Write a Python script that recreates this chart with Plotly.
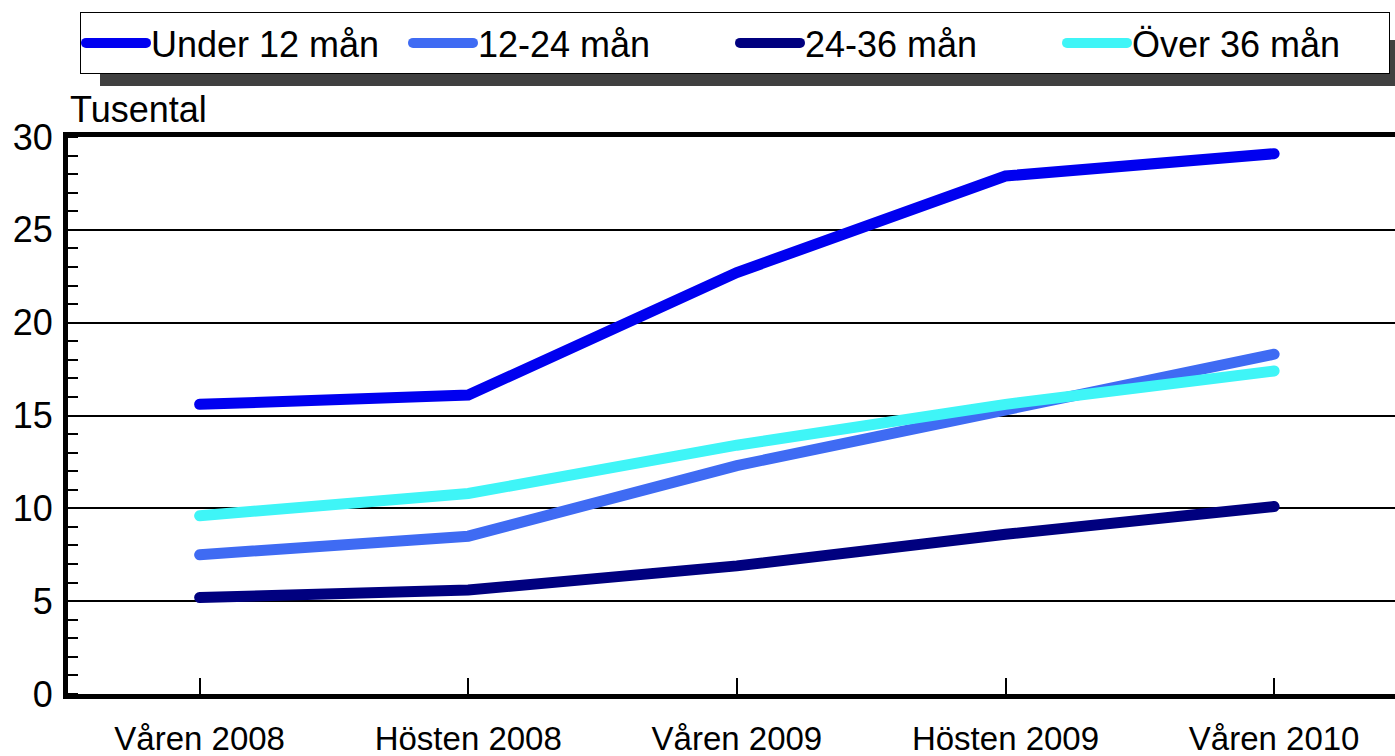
import plotly.graph_objects as go

categories = ["Våren 2008", "Hösten 2008", "Våren 2009", "Hösten 2009", "Våren 2010"]
under_12 = [15.6, 16.1, 22.7, 27.9, 29.1]
m12_24 = [7.5, 8.5, 12.3, 15.3, 18.3]
m24_36 = [5.2, 5.6, 6.9, 8.6, 10.1]
over_36 = [9.6, 10.8, 13.4, 15.6, 17.4]

series = [
    ("Under 12 mån", under_12, "#0000F0"),
    ("12-24 mån", m12_24, "#3F6BF3"),
    ("24-36 mån", m24_36, "#00007F"),
    ("Över 36 mån", over_36, "#3FF5F7"),
]

FONT = "Liberation Sans, Arial, sans-serif"
W, H = 1395, 756
L, R, T, B = 68, 0, 137, 62
pw, ph = W - L - R, H - T - B

def px(x):
    return (x - L) / pw

def py(y):
    return (H - B - y) / ph

fig = go.Figure()
xs = list(range(len(categories)))
for name, vals, col in series:
    fig.add_trace(go.Scatter(x=xs, y=vals, name=name, mode="lines",
                             line=dict(color=col, width=11)))

fig.update_layout(
    width=W, height=H,
    margin=dict(l=L, r=R, t=T, b=B, autoexpand=False),
    plot_bgcolor="white", paper_bgcolor="white",
    font=dict(family=FONT, size=33, color="black"),
    showlegend=True,
    legend=dict(orientation="h", x=px(80), y=py(12), xanchor="left", yanchor="top",
                bgcolor="white", bordercolor="black", borderwidth=1,
                font=dict(size=36), entrywidth=252, itemwidth=60,
                tracegroupgap=0),
    xaxis=dict(range=[-0.49, 4.45], tickmode="array", tickvals=xs, ticktext=categories,
               showline=True, linecolor="black", linewidth=5, mirror=True,
               ticks="inside", ticklen=16, tickwidth=2, tickcolor="black",
               showgrid=False, zeroline=False, tickfont=dict(size=33),
               ticklabelstandoff=11),
    yaxis=dict(range=[0, 30], tickvals=[0, 5, 10, 15, 20, 25, 30],
               showline=True, linecolor="black", linewidth=5, mirror=False,
               showgrid=True, gridcolor="black", gridwidth=2,
               ticks="", zeroline=False, tickfont=dict(size=36),
               ticklabelstandoff=3,
               minor=dict(dtick=1, ticks="inside", ticklen=10, tickwidth=2,
                          tickcolor="black", showgrid=False)),
    shapes=[dict(type="rect", xref="paper", yref="paper",
                 x0=px(100), x1=px(1395), y0=py(86), y1=py(40),
                 fillcolor="#404040", line=dict(width=0), layer="above")],
    annotations=[dict(text="Tusental", xref="paper", yref="paper", x=0, y=py(110),
                      xanchor="left", yanchor="middle", showarrow=False,
                      font=dict(size=36))],
)

post = """
document.body.style.margin='0';
document.querySelectorAll('.scatterlayer path.js-line, .legend path.js-line').forEach(function(p){
  p.style.strokeLinecap='round';
});
"""
fig.write_html("out.html", post_script=post, config={"displayModeBar": False})
